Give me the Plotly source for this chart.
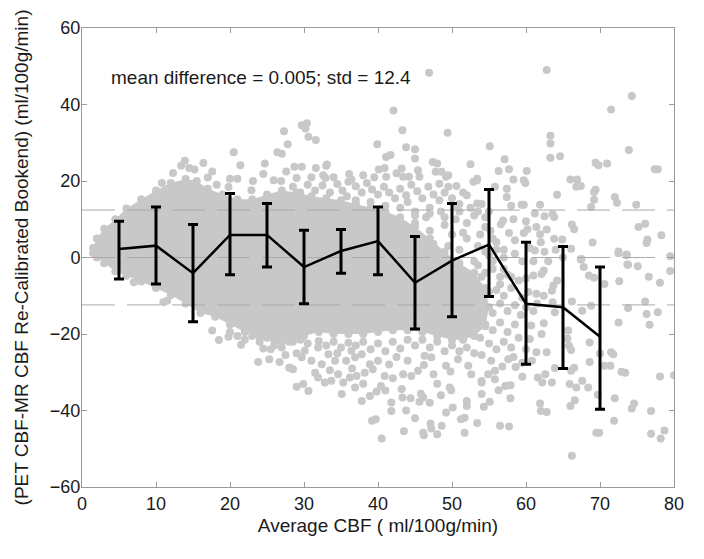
import plotly.graph_objects as go

# ---------------- data ----------------
mean_diff = 0.005
std_diff = 12.4

bin_x = [5, 10, 15, 20, 25, 30, 35, 40, 45, 50, 55, 60, 65, 70]
bin_mean = [2.2, 3.1, -4.1, 5.9, 5.9, -2.5, 1.7, 4.3, -6.6, -0.8, 3.4, -12.1, -13.0, -20.7]
bin_upper = [9.5, 13.2, 8.6, 16.7, 14.1, 7.1, 7.3, 13.2, 5.5, 14.1, 17.8, 4.0, 2.9, -2.5]
bin_lower = [-5.6, -6.9, -16.8, -4.5, -2.5, -12.1, -4.1, -4.5, -18.7, -15.5, -10.2, -27.9, -29.0, -39.7]

# envelope of the densest (solid) part of the cloud
core_x = [1.5, 2, 3, 4.5, 6, 8, 10, 12, 14, 15.5, 17, 19, 21, 23, 25, 27, 29, 31, 33, 35, 37, 39, 41, 43, 45, 47, 49, 51, 53, 54.5, 55,
          54.5, 53, 51.5, 50, 48, 46, 44, 42, 40, 38, 36, 34, 32, 30, 28, 26, 24, 22, 20, 18, 16, 14, 12, 10, 8, 6, 4.5, 3, 2, 1.5]
core_y = [2.5, 5, 7.5, 10, 12.8, 15.2, 17.5, 19.5, 20.5, 20, 18, 16.5, 15.2, 15.2, 16.5, 17.5, 17, 16, 15.5, 15, 14, 13, 12, 10.5, 8, 5, 1.5, -1.5, -4, -8, -13,
          -18, -20.5, -21.5, -21.5, -20.5, -19.5, -19, -19, -19.5, -20, -20, -20, -19.5, -20.5, -22, -22, -21, -19.5, -17.5, -15.5, -14.5, -12, -9.8, -8, -6.3, -4.8, -3.6, -1.5, 0, 1.2]

# individual points outside / around the dense core
pts_upper_left = [
    (13.9, 25.3), (13.4, 24.0), (14.5, 23.4), (15.2, 23.0), (16.4, 24.7), (17.6, 22.5), (17.0, 20.9), (18.2, 19.0),
    (12.3, 22.1), (10.8, 19.5), (20.0, 20.6), (21.0, 20.6), (19.8, 18.4), (23.1, 20.0), (22.9, 17.6), (25.9, 20.2),
    (26.9, 20.0), (20.5, 27.5), (21.4, 24.1), (24.7, 24.6), (24.5, 21.8), (27.6, 22.5), (27.3, 33.0), (27.8, 29.6),
    (26.4, 27.5), (27.0, 27.1), (29.7, 34.6), (30.4, 35.1), (30.2, 33.7), (30.6, 31.6), (31.6, 30.7), (28.7, 23.7),
    (29.7, 23.7), (31.6, 23.4), (33.0, 24.0), (33.1, 24.3), (32.6, 21.5), (32.9, 20.8), (36.1, 21.8), (36.4, 20.4),
    (40.1, 23.0), (40.9, 23.4), (41.1, 21.1), (42.5, 22.0), (43.2, 23.3), (43.4, 21.1), (44.2, 21.1), (45.4, 22.8),
    (45.6, 21.1), (47.8, 22.4), (48.6, 22.4), (49.2, 21.1), (48.3, 19.3), (49.5, 18.5), (50.6, 18.7), (46.9, 48.3),
    (42.1, 38.4), (43.3, 33.3), (49.4, 32.6), (39.9, 29.6), (43.8, 28.8), (45.0, 28.3), (41.7, 26.8), (41.1, 26.3),
    (45.0, 25.9), (47.4, 25.0), (48.0, 24.6), (52.5, 24.4), (49.5, 21.5), (53.4, 20.6), (52.9, 19.8), (52.0, 16.3),
    (28.5, 18.5), (29.5, 17.0), (30.5, 19.0), (31.5, 17.5), (32.5, 18.8), (33.5, 17.0), (34.5, 19.2), (35.2, 17.5),
    (35.8, 16.0), (37.0, 18.6), (37.8, 17.0), (38.5, 19.5), (39.2, 17.8), (40.0, 16.5), (40.8, 18.5), (41.5, 17.0),
    (42.3, 15.5), (43.0, 18.0), (43.8, 16.3), (44.5, 19.0), (45.3, 17.3), (46.0, 15.5), (46.8, 18.5), (47.5, 16.5),
    (48.3, 15.0), (49.0, 17.0), (50.0, 15.5), (51.0, 14.0), (51.5, 17.0), (52.5, 13.0), (47.0, 13.0), (45.0, 12.0),
    (43.0, 13.0), (41.0, 13.5), (39.0, 14.5), (37.0, 15.0), (36.0, 19.8), (34.0, 21.0), (31.0, 21.0), (29.0, 20.8),
    (38.0, 21.5), (39.5, 21.0), (44.0, 14.5), (46.5, 10.5), (48.5, 12.0), (50.5, 10.0), (52.0, 9.0), (53.0, 11.0),
    (54.0, 14.0), (55.0, 12.0), (54.5, 8.0), (50.0, 6.0), (52.0, 5.0), (53.5, 3.0), (55.5, 5.0), (56.0, 2.0),
    (57.0, 0.0), (51.0, 2.0), (45.0, 9.0), (47.0, 7.0), (49.0, 8.5), (44.5, 4.0), (47.5, 3.5), (49.5, 3.0),
    (51.5, 6.5), (53.0, -1.0), (55.0, 0.5), (57.0, -3.0), (56.5, -7.0), (58.0, -5.0), (52.0, -4.0), (54.0, -5.0),
    (50.5, -2.0), (46.0, 2.0), (48.0, 0.0), (45.0, 11.0), (47.0, 11.5), (49.0, 10.5), (51.0, 12.0), (50.5, 13.5),
]
pts_upper_right = [
    (62.8, 49.0), (74.3, 42.2), (71.5, 38.7), (73.9, 28.1), (63.3, 31.8), (63.3, 29.8), (63.3, 26.1), (64.6, 26.5),
    (55.1, 29.1), (57.1, 25.7), (56.3, 22.6), (57.7, 23.1), (58.3, 20.4), (60.1, 22.6), (59.7, 20.2), (59.9, 19.5),
    (57.4, 18.0), (57.4, 15.8), (55.8, 18.5), (53.4, 20.2), (53.4, 14.1), (58.0, 13.5), (59.4, 13.8), (59.7, 13.8),
    (61.9, 13.8), (66.0, 20.4), (66.9, 20.4), (66.8, 18.5), (67.4, 18.7), (64.2, 16.4), (69.4, 24.8), (69.8, 24.1),
    (70.95, 24.6), (77.4, 23.1), (77.8, 23.1), (69.2, 17.1), (69.4, 17.7), (69.2, 15.1), (68.8, 13.2), (72.0, 15.8),
    (72.3, 14.3), (74.9, 13.8), (61.2, 11.5), (62.5, 10.8), (63.6, 11.3), (63.8, 10.6), (56.6, 8.7), (56.9, 9.7),
    (58.3, 10.0), (57.7, 6.4), (58.5, 4.5), (59.7, 6.4), (60.2, 7.4), (61.4, 8.0), (61.9, 6.1), (62.8, 7.3),
    (63.8, 4.9), (66.2, 8.6), (66.5, 7.4), (64.9, 4.7), (66.1, 2.3), (69.0, 3.9), (75.2, 8.0), (76.1, 8.8),
    (76.4, 4.7), (76.3, 3.8), (78.3, 5.8), (72.5, 1.6), (73.6, 0.8), (73.7, -1.8), (75.1, -2.3), (67.4, -0.5),
    (67.8, -2.5), (79.5, 0.3), (79.5, -3.5), (53.5, 12.0), (54.5, 10.5), (55.2, 7.0), (53.8, 6.0), (56.0, 4.0),
    (57.0, 2.0), (58.5, 1.0), (59.5, -1.0), (54.5, 1.5), (55.5, -1.0), (60.5, 2.5), (61.0, -1.0), (62.5, 1.5),
    (63.0, -1.0), (64.0, 2.0), (65.0, 0.0), (60.0, 9.5), (62.0, 4.0),
]
pts_lower_right = [
    (53.4, -43.3), (56.5, -44.0), (57.7, -44.2), (54.0, -35.7), (55.1, -37.7), (54.3, -39.0), (56.3, -34.7),
    (57.2, -33.6), (57.9, -33.4), (57.9, -36.8), (54.0, -32.7), (54.9, -30.5), (55.8, -31.8), (55.8, -29.6),
    (59.5, -31.2), (58.6, -28.6), (57.6, -26.6), (61.9, -38.2), (62.8, -40.4), (62.0, -40.1), (61.6, -31.4),
    (62.6, -30.5), (62.2, -32.7), (63.5, -32.7), (63.9, -28.9), (62.8, -24.8), (62.4, -17.2), (62.1, -20.0),
    (61.4, -24.8), (66.2, -51.8), (66.0, -38.8), (66.6, -37.3), (65.9, -33.1), (66.8, -34.0), (67.6, -32.2),
    (68.4, -34.0), (66.1, -29.6), (66.5, -28.8), (68.6, -27.3), (68.6, -22.2), (69.5, -45.8), (69.9, -45.8),
    (69.7, -35.9), (70.0, -25.1), (70.6, -28.3), (71.4, -28.3), (71.5, -24.8), (71.8, -25.3), (71.9, -42.7),
    (72.0, -36.8), (72.9, -29.9), (73.4, -30.1), (72.5, -17.0), (74.3, -39.5), (74.6, -38.2), (76.9, -40.1),
    (76.9, -46.1), (78.1, -31.1), (80.0, -30.8), (78.2, -47.3), (78.7, -45.2), (72.6, -6.2), (73.8, -13.2),
    (76.3, -14.8), (76.7, -17.6), (77.8, -14.3), (76.1, -11.5), (76.6, -5.0), (78.1, -6.6), (73.8, -1.9),
    (72.5, 1.1), (73.6, 0.6), (70.6, -6.9), (67.5, -0.4), (68.5, -4.7), (69.2, -5.3), (68.8, -12.6),
    (67.6, -13.9), (66.2, -11.5), (65.7, -19.1), (65.6, -21.2), (65.8, -23.1), (66.1, -24.2), (63.9, -14.3),
    (63.6, -11.7), (63.5, -8.7), (63.7, -7.3), (64.2, -6.0), (62.4, -3.4), (62.1, -4.3), (61.0, -4.7),
    (62.4, -10.0), (61.4, -9.5), (61.2, 1.8), (60.7, -17.8), (60.5, -21.3), (53.5, -2.0), (54.5, -4.0),
    (55.5, -3.0), (56.5, -5.0), (57.5, -4.5), (53.8, -8.0), (55.0, -9.0), (56.0, -8.5), (57.0, -10.0),
    (58.0, -8.0), (59.0, -6.0), (60.0, -5.5), (53.5, -12.0), (54.5, -13.0), (55.5, -14.5), (56.5, -12.0),
    (57.5, -14.0), (58.5, -12.5), (59.5, -10.5), (60.3, -9.0), (53.5, -16.0), (54.5, -17.5), (55.5, -19.0),
    (56.5, -17.0), (57.5, -19.5), (58.5, -17.5), (59.3, -15.0), (60.0, -13.0), (53.8, -21.0), (55.0, -22.5),
    (56.0, -24.0), (57.0, -22.0), (58.0, -23.5), (59.0, -21.0), (60.0, -24.0), (54.0, -25.5), (55.3, -27.0),
    (56.8, -28.5), (58.3, -26.0), (59.5, -27.5), (60.8, -27.0), (61.0, -14.0), (61.5, -12.0),
]
pts_lower_mid = [
    (28.1, -28.8), (28.5, -29.2), (29.0, -33.8), (29.9, -33.1), (30.6, -34.9), (29.7, -26.1), (30.1, -24.4),
    (31.0, -27.0), (31.9, -23.5), (32.4, -27.9), (33.3, -25.3), (34.2, -27.0), (34.6, -30.5), (33.7, -32.2),
    (32.8, -32.7), (31.9, -31.4), (31.5, -30.1), (35.1, -35.7), (35.3, -32.7), (36.2, -31.4), (36.9, -34.0),
    (37.8, -37.5), (38.9, -36.2), (37.1, -31.0), (38.2, -30.1), (38.9, -27.9), (39.3, -29.2), (35.7, -27.0),
    (36.9, -26.1), (36.4, -24.4), (37.8, -25.3), (39.2, -42.7), (39.7, -42.3), (40.5, -47.3), (40.9, -31.0),
    (42.0, -31.6), (40.4, -33.6), (41.8, -37.9), (41.8, -40.1), (43.4, -30.5), (43.2, -34.4), (43.3, -36.6),
    (44.4, -36.8), (45.8, -35.6), (45.6, -37.7), (46.1, -36.6), (43.5, -45.4), (45.4, -29.6), (46.2, -28.1),
    (46.3, -25.7), (47.2, -26.1), (46.1, -45.8), (46.2, -46.5), (47.1, -43.4), (47.2, -44.7), (48.0, -46.2),
    (48.6, -44.0), (49.2, -40.5), (50.1, -39.2), (49.2, -28.3), (49.8, -29.8), (49.7, -34.0), (49.9, -34.7),
    (51.2, -42.3), (51.7, -41.9), (51.7, -45.8), (52.0, -37.5), (52.0, -38.8), (50.8, -26.6), (52.2, -28.3),
    (54.0, -32.3), (52.6, -30.5), (28.5, -22.0), (29.5, -21.5), (30.5, -22.5), (32.0, -21.8), (33.0, -23.0),
    (34.0, -22.0), (35.0, -23.5), (36.0, -22.3), (37.0, -23.0), (38.0, -22.0), (39.0, -24.0), (40.0, -22.5),
    (41.0, -24.5), (42.0, -22.0), (43.0, -23.8), (44.0, -21.5), (45.0, -23.0), (46.0, -21.5), (47.0, -23.5),
    (48.0, -22.0), (49.0, -24.5), (50.0, -23.0), (51.0, -24.5), (52.0, -23.5), (53.0, -25.0), (40.0, -27.0),
    (41.5, -28.0), (42.5, -26.0), (44.0, -27.0), (44.5, -31.0), (47.5, -30.5), (48.0, -33.0), (47.0, -38.0),
    (48.5, -36.0), (38.0, -33.0), (39.8, -35.0), (41.0, -34.8), (43.8, -40.0), (45.0, -42.0), (36.5, -29.0),
    (34.5, -25.0), (33.5, -29.5), (29.0, -25.0), (27.0, -23.5),
]
pts_lower_left = [
    (7.0, -6.5), (7.7, -6.0), (11.0, -11.7), (11.5, -11.3), (17.6, -19.1), (18.5, -21.6), (19.8, -20.7),
    (20.0, -19.5), (23.8, -27.3), (25.3, -26.6), (26.7, -27.3), (28.0, -28.8), (21.0, -20.5), (22.0, -21.5),
    (23.0, -20.5), (24.0, -22.0), (25.0, -21.0), (26.0, -23.0), (27.0, -22.0), (21.5, -22.8), (25.5, -24.0),
    (27.5, -25.5), (24.5, -23.8),
]

scatter_pts = pts_upper_left + pts_upper_right + pts_lower_right + pts_lower_mid + pts_lower_left
scat_x = [p[0] for p in scatter_pts]
scat_y = [p[1] for p in scatter_pts]

x_ticks = [0, 10, 20, 30, 40, 50, 60, 70, 80]
y_ticks = [-60, -40, -20, 0, 20, 40, 60]

# ---------------- figure ----------------
PT_GRAY = "#c8c8c8"
FONT = "Liberation Sans, Arial, sans-serif"

fig = go.Figure()

fig.add_trace(go.Scatter(
    x=core_x, y=core_y, mode="lines+markers", fill="toself",
    fillcolor=PT_GRAY, line=dict(width=0, color=PT_GRAY),
    marker=dict(size=8, color=PT_GRAY), hoverinfo="skip", showlegend=False))

fig.add_trace(go.Scatter(
    x=scat_x, y=scat_y, mode="markers",
    marker=dict(size=8, color=PT_GRAY, line=dict(width=0)),
    showlegend=False))

for lvl in [mean_diff + std_diff, mean_diff, mean_diff - std_diff]:
    fig.add_trace(go.Scatter(
        x=[x_ticks[0], x_ticks[-1]], y=[lvl, lvl], mode="lines",
        line=dict(color="#a9a9a9", width=1, dash="33px,12px"),
        hoverinfo="skip", showlegend=False))

err_plus = [u - m for u, m in zip(bin_upper, bin_mean)]
err_minus = [m - l for m, l in zip(bin_mean, bin_lower)]
fig.add_trace(go.Scatter(
    x=bin_x, y=bin_mean, mode="lines",
    line=dict(color="black", width=2.5),
    error_y=dict(type="data", symmetric=False, array=err_plus, arrayminus=err_minus,
                 color="black", thickness=3, width=5),
    showlegend=False))

fig.add_annotation(
    x=3.65, y=47, xref="x", yref="y", xanchor="left", yanchor="middle",
    text="mean difference = 0.005; std = 12.4", showarrow=False,
    font=dict(family=FONT, size=19, color="#1a1a1a"))

axis_common = dict(
    showgrid=False, zeroline=False, showline=True, linecolor="#9a9a9a", linewidth=1,
    mirror="ticks", ticks="inside", ticklen=5, tickcolor="#9a9a9a", tickwidth=1,
    tickfont=dict(family=FONT, size=18, color="#1a1a1a"),
)

fig.update_xaxes(range=[0, 80], tickvals=x_ticks, **axis_common,
                 title=dict(text="Average CBF ( ml/100g/min)", standoff=6,
                            font=dict(family=FONT, size=19, color="#1a1a1a")))
fig.update_yaxes(range=[-60, 60], tickvals=y_ticks, ticklabelstandoff=-3, **axis_common,
                 title=dict(text="(PET CBF-MR CBF Re-Calibrated Bookend) (ml/100g/min)", standoff=16,
                            font=dict(family=FONT, size=19, color="#1a1a1a")))

# the page body adds an 8px offset, so the figure is 8px smaller than the window
fig.update_layout(
    width=696, height=551,
    margin=dict(l=74, r=30, t=20, b=72, autoexpand=False),
    paper_bgcolor="white", plot_bgcolor="white",
    showlegend=False,
)

fig.write_html("out.html")
